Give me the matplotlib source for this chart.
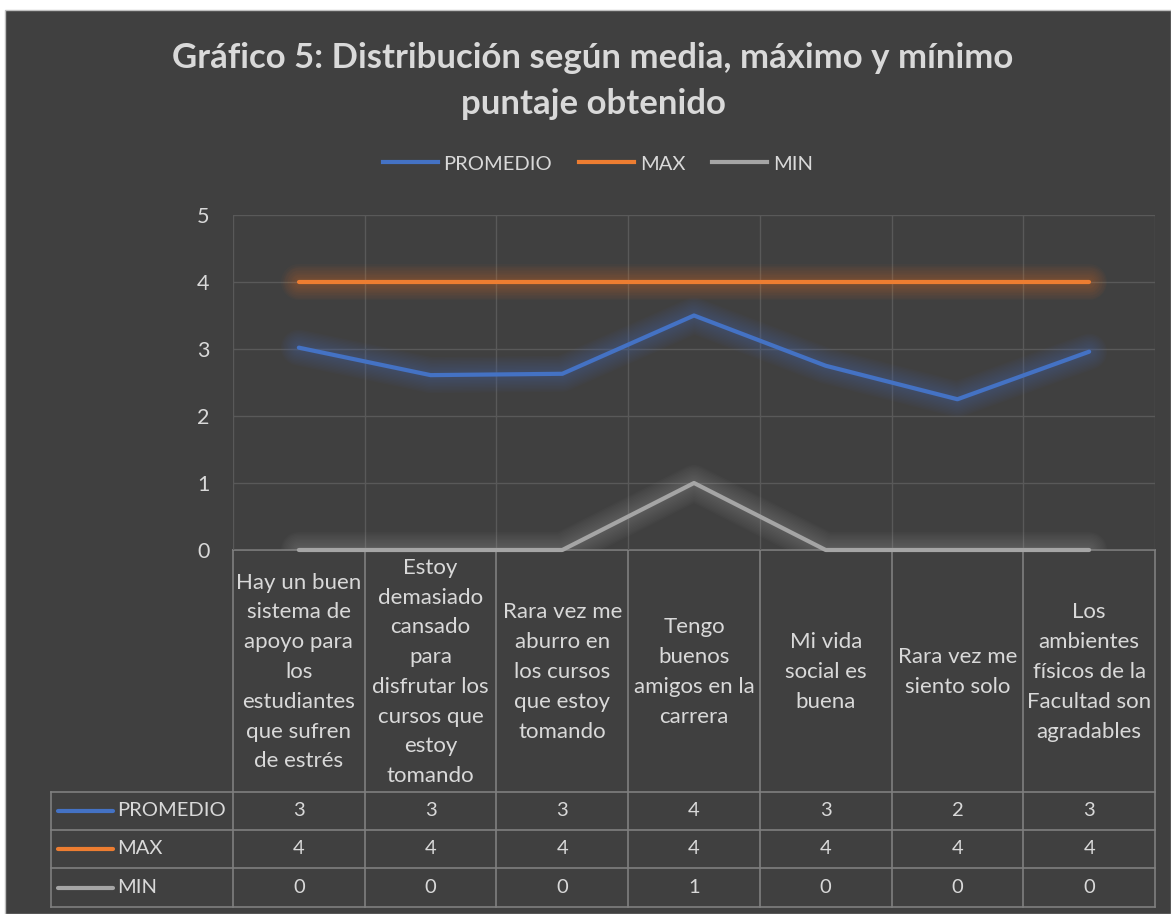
import matplotlib
matplotlib.use("Agg")
import matplotlib.pyplot as plt
from matplotlib.patches import Rectangle
from matplotlib.lines import Line2D

plt.rcParams['font.family'] = ['Lato', 'DejaVu Sans']

# datos
categorias = [
    "Hay un buen\nsistema de\napoyo para\nlos\nestudiantes\nque sufren\nde estrés",
    "Estoy\ndemasiado\ncansado\npara\ndisfrutar los\ncursos que\nestoy\ntomando",
    "Rara vez me\naburro en\nlos cursos\nque estoy\ntomando",
    "Tengo\nbuenos\namigos en la\ncarrera",
    "Mi vida\nsocial es\nbuena",
    "Rara vez me\nsiento solo",
    "Los\nambientes\nfísicos de la\nFacultad son\nagradables",
]
promedio = [3.02, 2.61, 2.63, 3.5, 2.75, 2.25, 2.96]
maximo = [4, 4, 4, 4, 4, 4, 4]
minimo = [0, 0, 0, 1, 0, 0, 0]
series = ["PROMEDIO", "MAX", "MIN"]
colores = ["#4472C4", "#ED7D31", "#A5A5A5"]
yticks = [0, 1, 2, 3, 4, 5]

W, H = 1171, 914
BG = "#404040"
TXT = "#D9D9D9"
GRID = "#595959"
TLINE = "#7F7F7F"

fig = plt.figure(figsize=(W / 100, H / 100), dpi=100, facecolor="white")
fig.patches.append(Rectangle((5 / W, 0), (W - 5) / W, (H - 10) / H,
                             transform=fig.transFigure, facecolor=BG,
                             edgecolor="#BFBFBF", linewidth=1, zorder=-5))

fig.text(593 / W, (H - 81) / H,
         "Gráfico 5: Distribución según media, máximo y mínimo\npuntaje obtenido",
         ha="center", va="center", fontsize=25, fontweight="bold", color=TXT,
         linespacing=1.55)

# area de trazado
ax = fig.add_axes([233 / W, (H - 550) / H, (1155 - 233) / W, (550 - 215) / H])
ax.set_zorder(2)
ax.set_facecolor("none")
n = len(categorias)
ax.set_xlim(0, n)
ax.set_ylim(0, 5)
ax.set_xticks(range(n + 1))
ax.set_xticklabels([])
ax.set_yticks(yticks)
ax.set_yticklabels([str(t) for t in yticks], color=TXT, fontsize=15.5)
ax.tick_params(length=0, pad=17)
ax.grid(True, color=GRID, linewidth=1)
for s in ax.spines.values():
    s.set_visible(False)

xs = [i + 0.5 for i in range(n)]
datos = [promedio, maximo, minimo]
for vals, col in zip(datos, colores):
    # brillo
    for w in range(4, 28, 2):
        ax.plot(xs, vals, color=col, linewidth=w, alpha=0.03,
                solid_capstyle="round", solid_joinstyle="round", zorder=2)
    ax.plot(xs, vals, color=col, linewidth=3, solid_capstyle="round",
            solid_joinstyle="round", clip_on=False, zorder=3)

# tabla de datos
colw = (1155 - 233) / n
lw = (233 - 51) / colw
filas = [0, 242, 280, 318, 357]
tab = fig.add_axes([51 / W, (H - 907) / H, (1155 - 51) / W, (907 - 550) / H])
tab.set_zorder(1)
tab.set_facecolor("none")
tab.set_xlim(-lw, n)
tab.set_ylim(357, 0)
tab.axis("off")
tab.plot([0, n], [0, 0], color=TLINE, linewidth=1.2, clip_on=False)
for yb in filas[1:]:
    tab.plot([-lw, n], [yb, yb], color=TLINE, linewidth=1.2, clip_on=False)
for i in range(n + 1):
    tab.plot([i, i], [0, 357], color=TLINE, linewidth=1.2, clip_on=False)
tab.plot([-lw, -lw], [242, 357], color=TLINE, linewidth=1.2, clip_on=False)

for i, c in enumerate(categorias):
    tab.text(i + 0.5, 122, c, ha="center", va="center", fontsize=16,
             color=TXT, linespacing=1.61)

px = 1 / colw
for r, (nombre, vals, col) in enumerate(zip(series, datos, colores)):
    yc = (filas[r + 1] + filas[r + 2]) / 2
    tab.plot([-lw + 7 * px, -lw + 62 * px], [yc, yc], color=col, linewidth=3,
             solid_capstyle="round")
    tab.text(-lw + 66 * px, yc, nombre, ha="left", va="center", fontsize=14.5,
             color=TXT)
    for i, v in enumerate(vals):
        tab.text(i + 0.5, yc, str(int(v + 0.5)), ha="center", va="center",
                 fontsize=14.5, color=TXT)

# leyenda superior
handles = [Line2D([], [], color=c, linewidth=3) for c in colores]
fig.legend(handles, series, loc="center", bbox_to_anchor=(598 / W, (H - 164) / H),
           ncol=3, frameon=False, fontsize=14.5, labelcolor=TXT,
           handlelength=2.7, handletextpad=0.3, columnspacing=1.35)

fig.savefig("out.png", dpi=100, facecolor=fig.get_facecolor())
